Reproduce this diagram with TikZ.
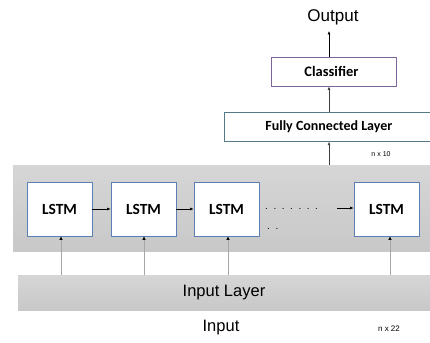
\documentclass[tikz,border=0pt]{standalone}
\usepackage{fontspec}
\setmainfont{Liberation Sans}
\newfontfamily\carlfont{Carlito}
\usetikzlibrary{arrows.meta}
\definecolor{lstmblue}{HTML}{5B7FB5}
\definecolor{panelgray}{HTML}{C8C8C8}
\definecolor{clsborder}{HTML}{7A659A}
\definecolor{fclborder}{HTML}{557A85}
\begin{document}
\begin{tikzpicture}[x=1pt,y=-1pt,
  lstm/.style={draw=lstmblue,fill=white,line width=0.7pt,minimum width=65pt,minimum height=54pt,font=\carlfont\bfseries\fontsize{15.5}{17}\selectfont},
  arr/.style={-{Latex[length=3.5pt,width=3pt]},line width=0.6pt},
  garr/.style={-{Latex[length=3.5pt,width=3.5pt,color=black]},draw=gray!70,line width=0.8pt},
  small/.style={font=\fontsize{7}{9}\selectfont}]
\useasboundingbox (0,0) rectangle (430,342);
% panels
\node[draw=none,top color=panelgray!75,bottom color=panelgray,minimum width=417pt,minimum height=86pt,inner sep=0pt,anchor=north west] (panel) at (13,165) {};
\node[draw=none,top color=panelgray!75,bottom color=panelgray,minimum width=412pt,minimum height=35pt,inner sep=0pt,anchor=north west] (inlayer) at (18,275) {};
\node[font=\fontsize{16.5}{18}\selectfont] (inlabel) at (224,293) {Input Layer};
% LSTMs
\node[lstm] (l1) at (59.5,209) {LSTM};
\node[lstm] (l2) at (143.5,209) {LSTM};
\node[lstm] (l3) at (226.5,209) {LSTM};
\node[lstm] (l4) at (386.5,209) {LSTM};
\draw[arr] (l1.east) -- (l2.west);
\draw[arr] (l2.east) -- (l3.west);
\coordinate (dstart) at (337,208);
\draw[arr] (dstart) -- (l4.west |- dstart);
\node[font=\fontsize{10}{11}\selectfont,anchor=west,inner sep=0pt] (dots1) at (265,209) {.\ \ .\ \ .\ \ .\ \ .\ \ .\ \ .};
\node[font=\fontsize{10}{11}\selectfont,anchor=west,inner sep=0pt] (dots2) at (267,229) {.\ \ .};
% input arrows
\foreach \n/\x in {l1/61,l2/144,l3/228,l4/390}{
  \coordinate (b\n) at (\x,275);
  \draw[garr] (b\n) -- (b\n |- \n.south);
}
% top part
\node[draw=fclborder,line width=0.7pt,fill=white,minimum width=212pt,minimum height=29pt,inner sep=0pt,anchor=north west,font=\carlfont\bfseries\fontsize{14}{16}\selectfont] (fcl) at (224,112) {\hspace*{-3pt}Fully Connected Layer};
\node[draw=clsborder,line width=0.7pt,fill=white,minimum width=125pt,minimum height=29pt,inner sep=0pt,font=\carlfont\bfseries\fontsize{14.5}{16}\selectfont] (cls) at (333.5,71.5) {\hspace*{-4pt}Classifier};
\node[font=\fontsize{17}{19}\selectfont] (out) at (333,17) {Output};
\coordinate (ptop) at (329,165);
\draw[arr,line width=1pt,draw=black!75] (ptop) -- (ptop |- fcl.south);
\draw[arr,line width=1pt,draw=black!75] (ptop |- fcl.north) -- (ptop |- cls.south);
\coordinate (otop) at (329,31);
\draw[arr] (ptop |- cls.north) -- (otop);
\node[small] (n10) at (381,154) {n x 10};
\node[font=\fontsize{16.5}{18}\selectfont] (inp) at (221,328) {Input};
\node[font=\fontsize{8}{9}\selectfont] (n22) at (389,329) {n x 22};
\end{tikzpicture}
\end{document}
